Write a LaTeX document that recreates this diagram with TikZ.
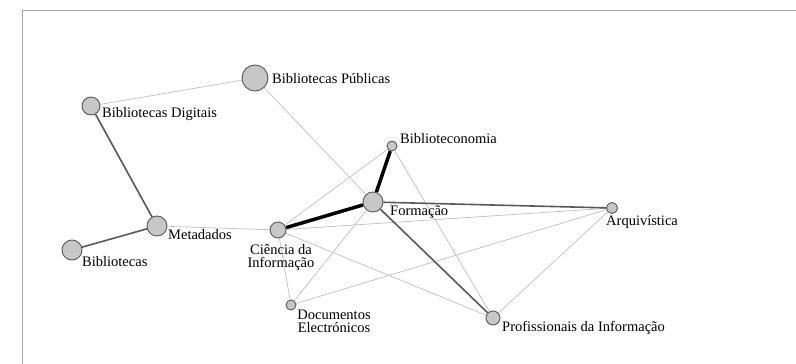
\documentclass[tikz,border=0pt]{standalone}
\usepackage{fontspec}
\setmainfont{Liberation Serif}
\usetikzlibrary{backgrounds}

\begin{document}
\begin{tikzpicture}[x=1pt,y=-1pt, font=\fontsize{14.5}{13}\selectfont, line join=round, line cap=round,
	vertex/.style={circle,draw=black!65,fill=black!22,line width=0.9pt,inner sep=0pt},
	weak/.style={draw=black!25,line width=0.7pt},
	mid/.style={draw=black!65,line width=1.6pt},
	strong/.style={draw=black,line width=3.5pt},
	lbl/.style={inner sep=0pt,align=center}]
	\useasboundingbox (0,0) rectangle (796,364);
	\draw[black!35,line width=1pt] (796,10)--(22,10)--(22,364);
	% vertices
	\node[vertex,minimum size=26pt] (bp) at (255,78) {};
	\node[vertex,minimum size=18pt] (bd) at (91,106) {};
	\node[vertex,minimum size=20pt] (me) at (157,226) {};
	\node[vertex,minimum size=20pt] (bi) at (72,250) {};
	\node[vertex,minimum size=16pt] (ci) at (278,230) {};
	\node[vertex,minimum size=20pt] (fo) at (373,202) {};
	\node[vertex,minimum size=10pt] (be) at (392,146) {};
	\node[vertex,minimum size=11pt] (ar) at (612,208) {};
	\node[vertex,minimum size=10pt] (de) at (291,305) {};
	\node[vertex,minimum size=14pt] (pi) at (493,318) {};
	% labels
	\node[lbl,anchor=base west] (bpt) at (272,83) {Bibliotecas Públicas};
	\node[lbl,anchor=base west] (bdt) at (102,117) {Bibliotecas Digitais};
	\node[lbl,anchor=base west] (met) at (168,239) {Metadados};
	\node[lbl,anchor=base west] (bit) at (82,266) {Bibliotecas};
	\node[lbl,anchor=base] (cit) at (281,267) {Ciência da\\Informação};
	\node[lbl,anchor=base west] (bet) at (400,143) {Biblioteconomia};
	\node[lbl,anchor=base west] (fot) at (390,215) {Formação};
	\node[lbl,anchor=base west] (art) at (606,225) {Arquivística};
	\node[lbl,anchor=base] (det) at (334,332) {Documentos\\Electrónicos};
	\node[lbl,anchor=base west] (pit) at (502,331) {Profissionais da Informação};
	% edges
	\begin{scope}[on background layer]
		\draw[weak] (bp)--(bd);
		\draw[weak] (bp)--(fo);
		\draw[weak] (me)--(ci);
		\draw[weak] (ci)--(be);
		\draw[weak] (ci)--(ar);
		\draw[weak] (ci)--(pi);
		\draw[weak] (ci)--(de);
		\draw[weak] (de)--(fo);
		\draw[weak] (de)--(ar);
		\draw[weak] (be)--(pi);
		\draw[weak] (ar)--(pi);
		\draw[mid] (bd)--(me);
		\draw[mid] (me)--(bi);
		\draw[mid] (fo)--(ar);
		\draw[mid] (fo)--(pi);
		\draw[strong] (ci)--(fo);
		\draw[strong] (fo)--(be);
	\end{scope}
\end{tikzpicture}
\end{document}
